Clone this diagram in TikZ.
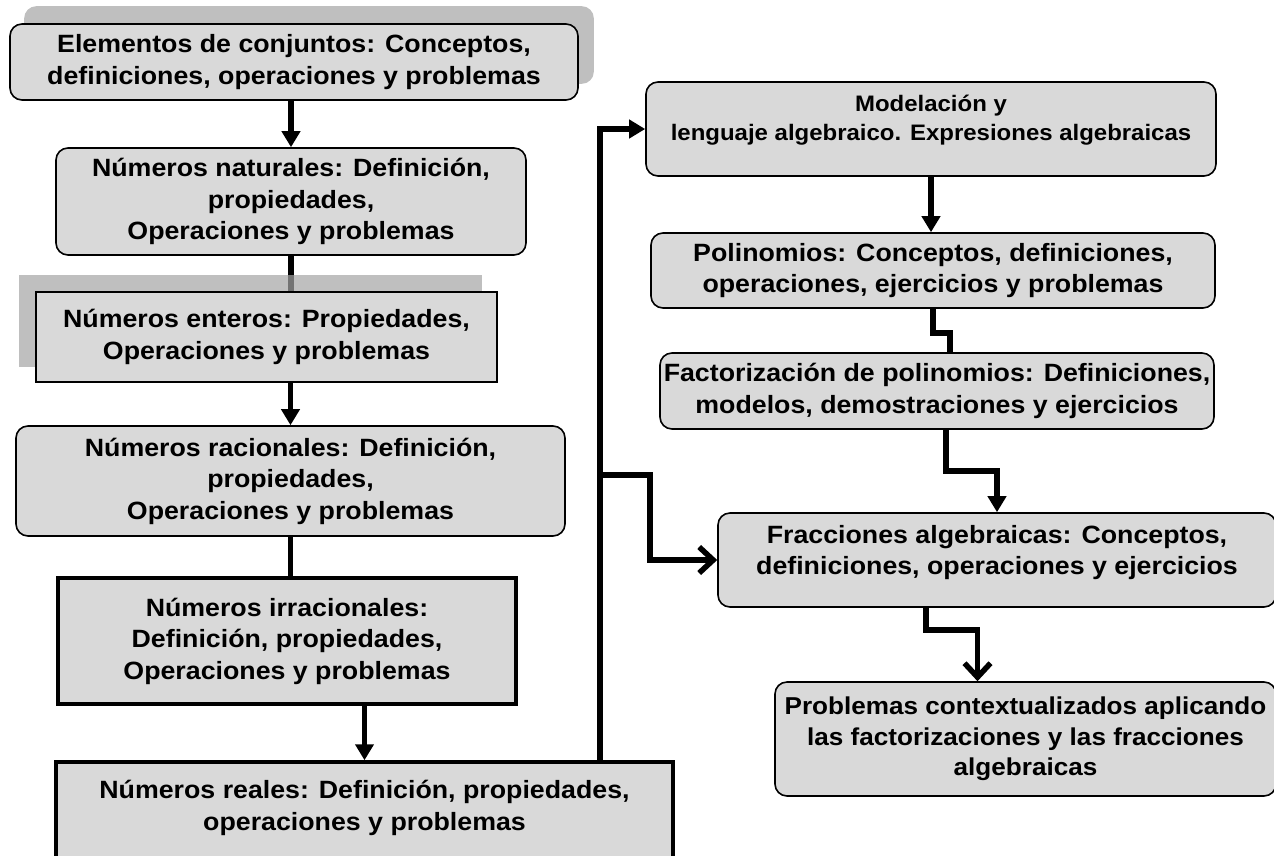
\documentclass[tikz,border=0pt]{standalone}
\usepackage{fontspec}
\setmainfont{Liberation Sans}[FakeStretch=1.07]
\usepackage{xcolor}
\usepackage{tikz}
\usetikzlibrary{arrows.meta,backgrounds}

\definecolor{boxgray}{RGB}{217,217,217}
\definecolor{shadegray}{RGB}{164,164,164}

\begin{document}
\begin{tikzpicture}[x=1pt,y=1pt,yscale=-1,xscale=1,
	font=\fontsize{25pt}{31.5pt}\selectfont\bfseries,
	rbox/.style={draw,line width=1.6pt,fill=boxgray,rounded corners=12pt,align=center,inner sep=0pt},
	sbox/.style={draw,line width=2pt,fill=boxgray,align=center,inner sep=0pt},
	tbox/.style={draw,line width=3.5pt,fill=boxgray,align=center,inner sep=0pt},
	boxshade/.style={fill=shadegray,opacity=0.7},
	conn/.style={line width=5.5pt},
	arr/.style={conn,-{Triangle[length=16pt,width=18pt]}},
	barb/.style={conn,-{Straight Barb[length=14pt,width=26pt]}}]
	\useasboundingbox (0,0) rectangle (1274,855);
	
	%Left column
	\node[rbox,minimum width=568pt,minimum height=76pt] (conj) at (294,62) {Elementos de conjuntos: Conceptos,\\definiciones, operaciones y problemas};
	\node[rbox,minimum width=470pt,minimum height=107pt] (nat) at (291,201.5) {Números naturales: Definición,\\propiedades,\\Operaciones y problemas};
	\node[sbox,minimum width=461pt,minimum height=90pt] (ent) at (266.5,337) {Números enteros: Propiedades,\\Operaciones y problemas};
	\node[rbox,minimum width=549pt,minimum height=110pt] (rac) at (290.5,481) {Números racionales: Definición,\\propiedades,\\Operaciones y problemas};
	\node[tbox,minimum width=458pt,minimum height=126pt] (irr) at (287,641) {Números irracionales:\\Definición, propiedades,\\Operaciones y problemas};
	\node[tbox,minimum width=617pt,minimum height=118pt] (real) at (364.5,821) {Números reales: Definición, propiedades,\\operaciones y problemas\\\mbox{}};
	
	%Right column
	\node[rbox,minimum width=570pt,minimum height=94pt,font=\fontsize{22.4pt}{29pt}\selectfont\bfseries] (model) at (931,129) {Modelación y\\lenguaje algebraico. Expresiones algebraicas\\[-6pt]\mbox{}};
	\node[rbox,minimum width=564pt,minimum height=75pt] (poli) at (933,270.5) {Polinomios: Conceptos, definiciones,\\operaciones, ejercicios y problemas};
	\node[rbox,minimum width=554pt,minimum height=76pt] (fact) at (937,391) {Factorización de polinomios: Definiciones,\\modelos, demostraciones y ejercicios};
	\node[rbox,minimum width=558pt,minimum height=94pt] (frac) at (997,560) {Fracciones algebraicas: Conceptos,\\definiciones, operaciones y ejercicios\\[-11pt]\mbox{}};
	\node[rbox,minimum width=501pt,minimum height=114pt,font=\fontsize{24.4pt}{30.5pt}\selectfont\bfseries] (prob) at (1025.5,739) {Problemas contextualizados aplicando\\las factorizaciones y las fracciones\\algebraicas};
	
	\coordinate (spine) at (600,475);
	\coordinate (bend) at (650,475);
	
	%Shadows
	\begin{pgfonlayer}{background}
		\fill[boxshade,rounded corners=12pt] ([shift={(15,-17)}]conj.north west) rectangle ([shift={(15,-17)}]conj.south east);
		\draw[conn] (nat.south) -- (nat.south |- ent.north);
		\fill[boxshade] ([shift={(-16,-16)}]ent.north west) rectangle ([shift={(-16,-16)}]ent.south east);
	\end{pgfonlayer}
	
	%Straight Lines
	\draw[arr] (conj.south -| nat.north) -- (nat.north);
	\draw[arr] (ent.south -| rac.north) -- (rac.north);
	\draw[conn] (rac.south) -- (rac.south |- irr.north);
	\draw[arr,line width=4.5pt] (irr.south -| real.north) -- (real.north);
	\draw[arr] (real.north -| spine) |- (model.west);
	\draw[barb] (spine) -- (bend) |- (frac.west);
	\draw[arr] (model.south) -- (model.south |- poli.north);
	\draw[conn] (poli.south) -- ++(0,24) -| ([xshift=13pt]fact.north);
	\draw[arr] ([xshift=9pt]fact.south) -- ++(0,41) -| (frac.north);
	\draw[barb] ([xshift=-71pt]frac.south) -- ++(0,22) -| ([xshift=-48pt]prob.north);
	
\end{tikzpicture}
\end{document}
